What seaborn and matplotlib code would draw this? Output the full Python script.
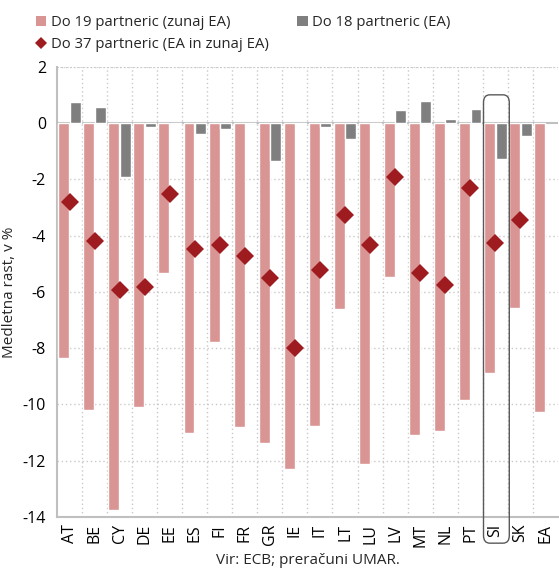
import numpy as np
import pandas as pd
import matplotlib
matplotlib.use("Agg")
import matplotlib.pyplot as plt
from matplotlib.patches import FancyBboxPatch, Patch
from matplotlib.lines import Line2D
import seaborn as sns

countries = ["AT", "BE", "CY", "DE", "EE", "ES", "FI", "FR", "GR", "IE",
             "IT", "LT", "LU", "LV", "MT", "NL", "PT", "SI", "SK", "EA"]
# Medletna rast, v %
partners_19 = [-8.35, -10.2, -13.75, -10.1, -5.33, -11.0, -7.78, -10.8, -11.37, -12.3,
               -10.77, -6.6, -12.1, -5.46, -11.1, -10.95, -9.84, -8.88, -6.57, -10.27]
partners_18 = [0.75, 0.57, -1.92, -0.14, -0.05, -0.39, -0.22, 0.0, -1.35, -0.02,
               -0.13, -0.57, -0.02, 0.46, 0.79, 0.13, 0.5, -1.27, -0.46, np.nan]
partners_37 = [-2.81, -4.19, -5.93, -5.82, -2.52, -4.49, -4.34, -4.72, -5.52, -7.99,
               -5.24, -3.27, -4.32, -1.91, -5.32, -5.74, -2.3, -4.25, -3.43, np.nan]

lbl_19 = "Do 19 partneric (zunaj EA)"
lbl_18 = "Do 18 partneric (EA)"
lbl_37 = "Do 37 partneric (EA in zunaj EA)"

c_pink = "#d99594"
c_gray = "#7f7f7f"
c_red = "#9e1b1f"

sns.set_theme(style="white")
plt.rcParams["font.family"] = ["Open Sans", "DejaVu Sans"]
plt.rcParams["axes.unicode_minus"] = False

bars = pd.DataFrame({
    "drzava": countries * 2,
    "rast": partners_19 + partners_18,
    "skupina": [lbl_19] * len(countries) + [lbl_18] * len(countries),
})

fig = plt.figure(figsize=(5.59, 5.70), dpi=100)
ax = fig.add_axes([0.102, 0.093, 0.896, 0.790])

sns.barplot(data=bars, x="drzava", y="rast", hue="skupina", order=countries,
            hue_order=[lbl_19, lbl_18], palette=[c_pink, c_gray],
            width=0.92, gap=0.05, saturation=1, errorbar=None, legend=False,
            ax=ax, zorder=3)

sns.pointplot(x=countries, y=partners_37, order=countries, linestyle="none",
              marker="D", color=c_red, markersize=9.5, markeredgewidth=0, ax=ax,
              zorder=4)

ax.set_ylim(-14, 2)
ax.set_xlim(-0.5, len(countries) - 0.5)
ax.set_yticks(np.arange(-14, 3, 2))
ax.set_yticklabels([str(v) for v in range(-14, 3, 2)])

# dotted grid: horizontal at ticks, vertical between categories
for y in range(-12, 3, 2):
    if y != 0:
        ax.axhline(y, color="#c8c8c8", lw=1, ls=(0, (1, 2)), zorder=1)
for x in np.arange(0.5, len(countries) - 0.5, 1):
    ax.axvline(x, color="#c8c8c8", lw=1, ls=(0, (1, 2)), zorder=1)
ax.axhline(0, color="#bfbfbf", lw=1.5, zorder=2)
ax.axhline(2, color="#c8c8c8", lw=1.2, ls=(0, (1, 1)), zorder=1)

for side in ["top", "right"]:
    ax.spines[side].set_visible(False)
for side in ["left", "bottom"]:
    ax.spines[side].set_color("#bfbfbf")
    ax.spines[side].set_linewidth(1.5)

ax.tick_params(axis="y", length=0, labelsize=11.5, pad=8, colors="#000000")
ax.tick_params(axis="x", length=0, labelsize=11.5, pad=5, colors="#000000",
               labelrotation=90)
ax.set_ylabel("Medletna rast, v %", fontsize=11, labelpad=4)
ax.set_xlabel("Vir: ECB; preračuni UMAR.", fontsize=11, labelpad=4)

# highlight Slovenia
si = countries.index("SI")
box = FancyBboxPatch((si - 0.47, -14.93), 1.03, 15.93,
                     boxstyle="round,pad=0,rounding_size=0.25",
                     mutation_aspect=1.1,
                     fill=False, ec="#595959", lw=1.0, clip_on=False,
                     zorder=5, transform=ax.transData)
ax.add_patch(box)

leg_kw = dict(loc="upper left", frameon=False, fontsize=10.7,
              handlelength=0.7, handleheight=0.7, handletextpad=0.3,
              labelspacing=0.45, borderaxespad=0, borderpad=0)
fig.legend([Patch(fc=c_pink, ec="none"),
            Line2D([], [], marker="D", ls="none", color=c_red, markersize=6.5,
                   markeredgewidth=0)],
           [lbl_19, lbl_37], bbox_to_anchor=(0.064, 0.973), **leg_kw)
fig.legend([Patch(fc=c_gray, ec="none")], [lbl_18],
           bbox_to_anchor=(0.532, 0.973), **leg_kw)

fig.savefig("out.png", dpi=100)
